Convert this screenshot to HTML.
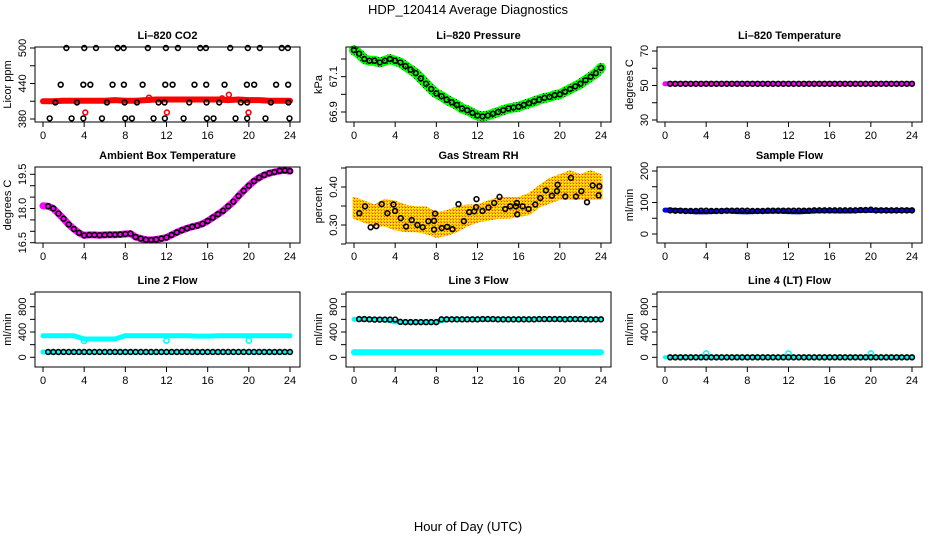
<!DOCTYPE html>
<html><head><meta charset="utf-8"><style>
body{margin:0;background:#fff;}
svg{display:block;font-family:"Liberation Sans",Arial,sans-serif;}
</style></head><body>
<svg id="chart" width="936" height="540" viewBox="0 0 936 540">
<defs>
<pattern id="patGreen" width="3" height="3" patternUnits="userSpaceOnUse"><rect width="3" height="3" fill="#00ff00"/><rect width="1" height="1" fill="#003300"/></pattern>
<pattern id="patOrange" width="3" height="3" patternUnits="userSpaceOnUse"><rect width="3" height="3" fill="#ffcc00"/><rect width="1" height="1" fill="#ff3300"/><rect x="1" y="1" width="1" height="1" fill="#ffff00"/><rect x="2" y="2" width="1" height="1" fill="#ff8800"/></pattern>
</defs>
<text x="468" y="14" text-anchor="middle" font-size="13">HDP_120414  Average Diagnostics</text>
<text x="468" y="531" text-anchor="middle" font-size="13">Hour of Day (UTC)</text>
</svg>
<script>
// ---- data ----
const halfHours=[0,0.5,1,1.5,2,2.5,3,3.5,4,4.5,5,5.5,6,6.5,7,7.5,8,8.5,9,9.5,10,10.5,11,11.5,12,12.5,13,13.5,14,14.5,15,15.5,16,16.5,17,17.5,18,18.5,19,19.5,20,20.5,21,21.5,22,22.5,23,23.5,24];
const hours=[0,1,2,3,4,5,6,7,8,9,10,11,12,13,14,15,16,17,18,19,20,21,22,23,24];
const xTicks=[0,4,8,12,16,20,24];

const co2Red=[410,410,411,411,411,411,411,412,411,411,412,413,413,413,413,413,413,413,412,413,412,412,411,411,411];
const co2RedOutHours=[4.11,10.3,12.04,17.4,18.06,19.97];
const co2RedOutVals=[391,416,391,415,421,391];
const co2BlackHours=[2.27,4.01,5.15,7.25,7.83,10.19,11.94,13.11,15.28,15.83,18.19,19.9,21.07,23.2,23.79,
1.72,3.92,4.6,6.76,7.86,9.68,11.88,12.59,14.72,15.86,17.64,19.81,20.52,22.65,23.82,
1.2,3.3,6.21,7.93,9.13,11.23,11.81,14.21,15.89,17.12,19.22,19.84,22.14,23.85,
0.65,2.78,3.92,5.73,7.99,8.64,10.74,11.84,13.66,15.92,16.57,18.71,19.84,21.62,23.95];
const co2BlackVals=[500,500,500,500,500,500,500,500,500,500,500,500,500,500,500,
438,438,438,438,438,438,438,438,438,438,438,438,438,438,438,
408,408,408,408,408,408,408,408,408,408,408,408,408,408,
381,381,381,381,381,381,381,381,381,381,381,381,381,381,381];

const pressure=[67.25,67.23,67.20,67.19,67.19,67.18,67.19,67.20,67.19,67.18,67.16,67.14,67.12,67.09,67.06,67.03,67.005,66.99,66.97,66.955,66.94,66.92,66.91,66.895,66.88,66.875,66.88,66.89,66.90,66.91,66.92,66.925,66.93,66.94,66.95,66.96,66.97,66.98,66.985,66.995,67.0,67.015,67.03,67.045,67.06,67.08,67.10,67.12,67.15];

const temp820=[51,51,51,51,51,51,51,51,51,51,51,51,51,51,51,51,51,51,51,51,51,51,51,51,51,51,51,51,51,51,51,51,51,51,51,51,51,51,51,51,51,51,51,51,51,51,51,51,51];

const ambient=[18.12,18.1,18.0,17.78,17.55,17.3,17.1,16.93,16.82,16.84,16.84,16.83,16.84,16.85,16.85,16.86,16.88,16.9,16.75,16.68,16.63,16.62,16.64,16.68,16.73,16.84,16.95,17.05,17.13,17.2,17.25,17.33,17.45,17.6,17.75,17.9,18.1,18.3,18.55,18.78,19.0,19.2,19.35,19.47,19.55,19.6,19.65,19.67,19.64];

const rhUpper=[0.37,0.36,0.35,0.365,0.36,0.35,0.345,0.345,0.33,0.335,0.345,0.35,0.35,0.36,0.37,0.37,0.37,0.38,0.40,0.42,0.43,0.44,0.43,0.44,0.43];
const rhLower=[0.32,0.31,0.30,0.30,0.29,0.285,0.285,0.28,0.27,0.275,0.285,0.30,0.31,0.315,0.32,0.32,0.325,0.33,0.35,0.36,0.37,0.37,0.37,0.37,0.37];
const rhHours=[0.52,1.07,1.62,2.17,2.69,3.24,3.83,3.99,4.54,5.06,5.61,6.16,6.68,7.23,7.78,7.88,7.78,8.53,9.05,9.57,10.15,10.67,11.19,11.68,11.87,11.9,12.49,13.07,13.62,14.14,14.69,15.18,15.73,15.86,15.83,16.38,16.96,17.61,18.1,18.65,19.23,19.72,19.79,20.53,21.08,21.57,22.09,22.64,23.19,23.77,23.84];
const rhVals=[0.331,0.349,0.294,0.297,0.355,0.331,0.354,0.337,0.318,0.296,0.313,0.300,0.294,0.310,0.311,0.330,0.288,0.292,0.295,0.289,0.355,0.310,0.334,0.336,0.347,0.368,0.337,0.346,0.358,0.374,0.342,0.349,0.349,0.328,0.358,0.349,0.342,0.354,0.371,0.391,0.377,0.389,0.406,0.375,0.424,0.375,0.389,0.360,0.404,0.378,0.402];

const sampleFlow=[75,75,74,74,73,73,73,74,74,73,73,73,74,74,74,74,74,73,73,73,74,74,74,74,74,74,74,74,74,75,75,75,75,75,75,75,75,75,76,76,77,75,75,75,75,75,75,75,75];
const sampleBlue=[76,75,73,70,70,72,74,71,70,72,72,73,71,70,72,74,74,73,73,75,75,75,74,75,75];

const line2Cyan=[340,340,340,340,290,290,290,290,340,340,340,340,340,340,340,335,335,340,340,340,340,340,340,340,340];
const line2CyanOutHours=[4,12,20];
const line2CyanOutVals=[260,265,265];
const line2Black=[84,84,84,84,84,84,84,84,84,84,84,84,84,84,84,84,84,84,84,84,84,84,84,84,84,84,84,84,84,84,84,84,84,84,84,84,84,84,84,84,84,84,84,84,84,84,84,84,84];

const line3Black=[604,604,604,600,596,596,596,596,596,560,556,556,556,556,556,556,556,600,600,600,600,600,600,600,600,604,604,604,600,600,600,600,600,600,600,600,604,604,604,604,604,600,604,604,604,600,600,600,600];
const line3CyanHigh=[600,600,600,596,560,556,556,556,560,600,600,600,600,600,600,600,600,600,600,600,604,600,600,600,600];
const line3CyanLow=[79,79,79,79,79,79,79,79,79,79,79,79,79,79,79,79,79,79,79,79,79,79,79,79,79];

const line4Black=[0,0,0,0,0,0,0,0,0,0,0,0,0,0,0,0,0,0,0,0,0,0,0,0,0,0,0,0,0,0,0,0,0,0,0,0,0,0,0,0,0,0,0,0,0,0,0,0,0];
const line4Cyan=[0,0,0,0,0,0,0,0,0,0,0,0,0,0,0,0,0,0,0,0,0,0,0,0,0];
const line4CyanOutHours=[4,12,20];
const line4CyanOutVals=[60,60,60];

// ---- layout ----
const NS="http://www.w3.org/2000/svg";
const svg=document.getElementById('chart');
const colOff=[0,311,622];
const rowTop=[47,167,292];
const rowBot=[122,243,367];
function mk(tag,attrs,parent){const e=document.createElementNS(NS,tag);for(const k in attrs)e.setAttribute(k,attrs[k]);(parent||svg).appendChild(e);return e;}

function makePanel(col,row,name,title,ytitle,ref,yTicks,yLabels){
  const g=mk('g',{});
  
  
  const L=35+colOff[col],R=300+colOff[col],T=rowTop[row],B=rowBot[row];
  const x=h=>43+colOff[col]+h*(247/24);
  const k=(ref[3]-ref[1])/(ref[2]-ref[0]);
  const y=v=>ref[1]+(v-ref[0])*k;
  const t=mk('text',{x:(L+R)/2,y:T-8,'text-anchor':'middle','font-size':11,'font-weight':'bold'},g);
  t.textContent=title;
  
  
  const plot=mk('g',{},g);
  
  
  const box=mk('rect',{x:L,y:T,width:R-L,height:B-T,fill:'none',stroke:'#000','stroke-width':1},g);
  
  
  const xa=mk('g',{},g);
  
  
  xTicks.forEach(h=>{
    mk('line',{x1:x(h),x2:x(h),y1:B,y2:B+5,stroke:'#000'},xa);
    const lb=mk('text',{x:x(h),y:B+17,'text-anchor':'middle','font-size':11},xa);
    lb.textContent=h;
    
    
  });
  const ya=mk('g',{},g);
  
  
  yTicks.forEach(v=>{mk('line',{x1:L-5,x2:L,y1:y(v),y2:y(v),stroke:'#000'},ya);});
  yLabels.forEach(v=>{
    const lb=mk('text',{x:0,y:0,'text-anchor':'middle','font-size':11,transform:`translate(${L-9},${y(v)}) rotate(-90)`},ya);
    lb.textContent=v;
    
    
  });
  const yt=mk('text',{x:0,y:0,'text-anchor':'middle','font-size':11,transform:`translate(${L-24},${(T+B)/2}) rotate(-90)`},g);
  yt.textContent=ytitle;
  
  
  return {x,y,plot};
}
function band(p,hs,vs,color,w,name){
  const pts=hs.map((h,i)=>p.x(h).toFixed(1)+','+p.y(vs[i]).toFixed(1)).join(' ');
  const e=mk('polyline',{points:pts,fill:'none',stroke:color,'stroke-width':w,'stroke-linejoin':'round','stroke-linecap':'round'},p.plot);
  
  
}
function circles(p,hs,vs,color,name,r,sw){
  hs.forEach((h,i)=>{
    const c=mk('circle',{cx:p.x(h),cy:p.y(vs[i]),r:r||2.4,fill:'none',stroke:color,'stroke-width':sw||1.6},p.plot);
    
    
  });
}
function area(p,hs,up,lo,fill,name){
  const pts=hs.map((h,i)=>p.x(h)+','+p.y(up[i])).concat(hs.slice().reverse().map((h,j)=>p.x(h)+','+p.y(lo[hs.length-1-j])));
  const e=mk('polygon',{points:pts.join(' '),fill:fill,stroke:fill,'stroke-width':3,'stroke-linejoin':'round'},p.plot);
  
  
}

// Panel 1: CO2
let p=makePanel(0,0,'co2','Li\u2013820 CO2','Licor ppm',[500,48,380,119],[380,410,440,470,500],[380,440,500]);
band(p,hours,co2Red,'#ff0000',6,'co2-red-band');
circles(p,co2RedOutHours,co2RedOutVals,'#ff0000','co2-red-point');
circles(p,co2BlackHours,co2BlackVals,'#000','co2-black-point');

// Panel 2: pressure
p=makePanel(1,0,'pressure','Li\u2013820 Pressure','kPa',[67.2,59,66.9,112],[66.9,67.0,67.1,67.2],[66.9,67.1]);
band(p,halfHours,pressure,'url(#patGreen)',10,'pressure-green-band');
circles(p,halfHours,pressure,'#000','pressure-point');

// Panel 3: temperature
p=makePanel(2,0,'temperature','Li\u2013820 Temperature','degrees C',[70,51,30,120],[30,40,50,60,70],[30,50,70]);
band(p,[0,24],[51,51],'#ff00ff',5,'temperature-magenta-band');
circles(p,halfHours.slice(1),temp820.slice(1),'#000','temperature-point');

// Panel 4: ambient
p=makePanel(0,1,'ambient','Ambient Box Temperature','degrees C',[19.5,174.3,16.5,242.7],[16.5,17,17.5,18,18.5,19,19.5],['16.5','18.0','19.5']);
band(p,halfHours,ambient,'#ff00ff',7,'ambient-magenta-band');
circles(p,halfHours.slice(1),ambient.slice(1),'#000','ambient-point');

// Panel 5: RH
p=makePanel(1,1,'rh','Gas Stream RH','percent',[0.40,187,0.30,225],[0.25,0.30,0.35,0.40,0.45],['0.30','0.40']);
area(p,hours,rhUpper,rhLower,'url(#patOrange)','rh-orange-band');
circles(p,rhHours,rhVals,'#000','rh-point');

// Panel 6: sample flow
p=makePanel(2,1,'sample-flow','Sample Flow','ml/min',[200,171,0,234],[0,50,100,150,200],[0,100,200]);
band(p,hours,sampleBlue,'#0000ff',5,'sample-flow-blue-band');
circles(p,halfHours.slice(1),sampleFlow.slice(1),'#000','sample-flow-point');

// Panel 7: line 2
p=makePanel(0,2,'line2','Line 2 Flow','ml/min',[800,306.7,0,357.3],[0,200,400,600,800,1000],[0,400,800]);
band(p,hours,line2Cyan,'#00ffff',5,'line2-cyan-band');
band(p,[0,24],[84,84],'#00ffff',5,'line2-cyan-low-band');
circles(p,line2CyanOutHours,line2CyanOutVals,'#00ffff','line2-cyan-point',2.6,1.6);
circles(p,halfHours.slice(1),line2Black.slice(1),'#000','line2-point');

// Panel 8: line 3
p=makePanel(1,2,'line3','Line 3 Flow','ml/min',[800,306.7,0,357.3],[0,200,400,600,800,1000],[0,400,800]);
band(p,hours,line3CyanHigh,'#00ffff',5,'line3-cyan-high-band');
band(p,hours,line3CyanLow,'#00ffff',6,'line3-cyan-low-band');
circles(p,halfHours.slice(1),line3Black.slice(1),'#000','line3-point');

// Panel 9: line 4
p=makePanel(2,2,'line4','Line 4 (LT) Flow','ml/min',[800,306.7,0,357.3],[0,200,400,600,800,1000],[0,400,800]);
band(p,hours,line4Cyan,'#00ffff',4,'line4-cyan-band');
circles(p,line4CyanOutHours,line4CyanOutVals,'#00ffff','line4-cyan-point',2.6,1.6);
circles(p,halfHours.slice(1),line4Black.slice(1),'#000','line4-point');
</script>
</body></html>
